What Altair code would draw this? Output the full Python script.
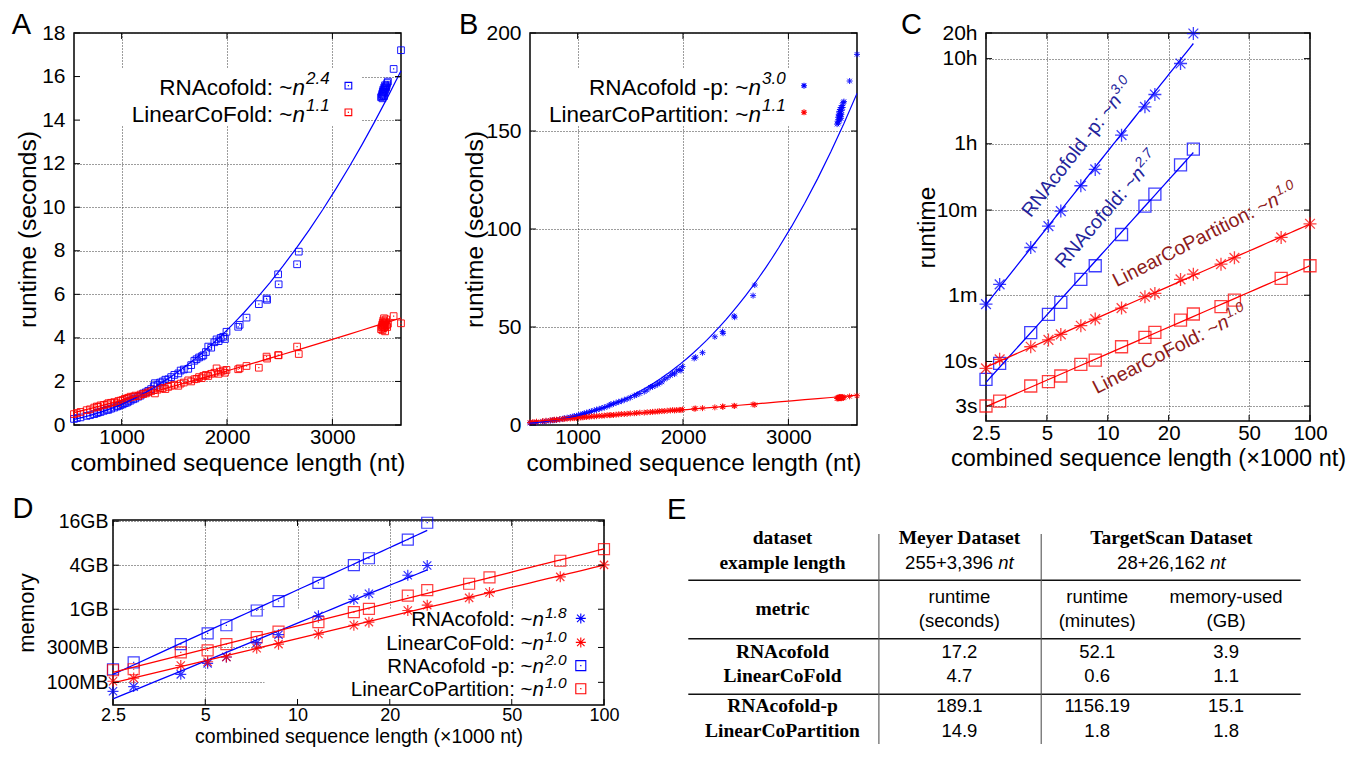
import altair as alt
import pandas as pd

# ---------------- data ----------------
# Panels A/B: Meyer dataset, combined length (nt)
meyer_len = [548, 575, 610, 668, 700, 740, 765, 779, 800, 830,
             860, 874, 900, 930, 955, 969, 990, 1010, 1030, 1050,
             1064, 1085, 1110, 1130, 1158, 1180, 1205, 1230, 1253, 1280,
             1305, 1316, 1340, 1365, 1390, 1415, 1443, 1470, 1500, 1538,
             1560, 1590, 1632, 1660, 1690, 1711, 1735, 1760, 1775, 1800,
             1822, 1850, 1880, 1901, 1920, 1940, 1964, 1980, 1995,
             2106, 2120, 2185, 2302, 2375, 2380, 2485, 2490, 2665, 2681,
             3462, 3468, 3472, 3475, 3478, 3480, 3483, 3485, 3487, 3490,
             3492, 3495, 3498, 3500, 3503, 3506, 3510, 3515, 3520, 3527,
             3581, 3651]
a_rnacofold_sec = [0.28, 0.32, 0.35, 0.42, 0.45, 0.5, 0.55, 0.58, 0.6, 0.65,
                   0.7, 0.7, 0.75, 0.8, 0.85, 0.88, 0.92, 0.95, 1.0, 1.03,
                   1.08, 1.12, 1.18, 1.22, 1.3, 1.35, 1.45, 1.5, 1.57, 1.65,
                   1.78, 1.92, 1.85, 1.95, 2.0, 2.08, 2.1, 2.2, 2.3, 2.37,
                   2.5, 2.55, 2.58, 2.75, 2.95, 3.02, 3.1, 3.15, 3.2, 3.35,
                   3.6, 3.55, 3.8, 3.93, 3.85, 4.0, 4.05, 3.95, 4.28,
                   4.51, 4.6, 4.93, 5.55, 5.81, 5.75, 6.92, 6.46, 7.38, 7.96,
                   15.05, 15.1, 15.2, 15.0, 15.3, 15.15, 15.4, 15.25, 15.35, 15.1,
                   15.5, 15.3, 15.45, 15.6, 15.4, 15.55, 15.5, 15.6, 15.7, 15.77,
                   16.35, 17.21]
a_linearcofold_sec = [0.5, 0.55, 0.6, 0.68, 0.72, 0.8, 0.85, 0.83, 0.9, 0.92,
                      0.95, 1.0, 1.02, 1.05, 1.0, 1.1, 1.12, 1.15, 1.2, 1.22,
                      1.25, 1.3, 1.3, 1.35, 1.33, 1.4, 1.42, 1.45, 1.5, 1.55,
                      1.6, 1.45, 1.62, 1.68, 1.7, 1.65, 1.75, 1.8, 1.85, 1.8,
                      1.9, 1.95, 2.05, 2.0, 2.1, 2.12, 2.2, 2.15, 2.25, 2.3,
                      2.25, 2.35, 2.4, 2.6, 2.35, 2.45, 2.5, 2.4, 2.53,
                      2.56, 2.6, 2.71, 2.63, 3.14, 3.05, 3.21, 3.2, 3.6, 3.26,
                      4.4, 4.5, 4.6, 4.35, 4.7, 4.55, 4.8, 4.45, 4.65, 4.9,
                      4.5, 4.6, 4.75, 4.3, 4.55, 4.7, 4.85, 4.6, 4.5, 4.65,
                      5.0, 4.67]
b_rnacofold_p_sec = [1.0, 1.1, 1.3, 1.7, 1.9, 2.2, 2.4, 2.5, 2.6, 2.9,
                     3.2, 3.4, 3.7, 4.0, 4.3, 4.5, 4.7, 5.0, 5.3, 5.6,
                     5.9, 6.2, 6.7, 7.0, 7.4, 7.8, 8.2, 8.6, 9.0, 9.5,
                     10.1, 10.6, 10.8, 11.3, 11.8, 12.2, 12.8, 13.3, 14.0, 14.9,
                     15.4, 16.1, 17.0, 17.9, 19.2, 19.6, 20.1, 20.8, 21.4, 22.0,
                     23.4, 24.1, 25.3, 26.4, 26.0, 27.6, 28.3, 27.8, 29.8,
                     34.0, 34.6, 36.9, 45.0, 47.6, 46.8, 55.6, 55.0, 66.0, 71.4,
                     153.5, 155, 157, 154, 158.5, 156, 160, 155.5, 158, 161,
                     157.5, 159, 162, 156.5, 158.5, 160.5, 163, 162, 164.5, 165,
                     175.5, 189.1]
b_linearcopartition_sec = [1.3, 1.5, 1.7, 2.0, 2.2, 2.4, 2.5, 2.7, 2.7, 2.9,
                           3.0, 3.2, 3.2, 3.3, 3.5, 3.5, 3.6, 3.8, 3.8, 3.9,
                           4.1, 4.1, 4.2, 4.4, 4.4, 4.5, 4.7, 4.7, 4.8, 5.0,
                           5.0, 5.1, 5.1, 5.3, 5.4, 5.6, 5.6, 5.7, 5.9, 6.0,
                           6.1, 6.3, 6.3, 6.5, 6.6, 6.7, 6.8, 6.9, 7.0, 7.1,
                           7.1, 7.3, 7.4, 7.6, 7.4, 7.6, 7.7, 7.6, 7.9,
                           8.3, 8.4, 8.6, 9.0, 9.4, 9.3, 9.8, 9.7, 10.5, 10.3,
                           13.5, 13.7, 13.9, 13.6, 14.0, 13.8, 14.2, 13.7, 13.9, 14.3,
                           13.8, 14.0, 14.1, 13.6, 13.9, 14.2, 14.3, 14.0, 13.8, 14.1,
                           14.6, 14.9]

# Panels C/D: TargetScan dataset, combined length (x1000 nt)
ts_len_k = [2.5, 2.92, 4.16, 5.09, 5.86, 7.36, 8.67, 11.7, 15.27, 17.1,
            22.9, 26.5, 36.3, 42.3, 72.0, 100.0]
c_rnacofold_p_sec = [47.2, 80.4, 218, 389, 583, 1157, 1799, 4548, 9783, 13650, 31550, 70980]
c_rnacofold_sec = [6.17, 9.5, 21.8, 35.7, 49.4, 92, 133, 310, 668, 923, 2040, 3115]
c_linearcopartition_sec = [8.3, 10.6, 14.9, 17.9, 20.8, 26.3, 31.5, 42.4, 57.6, 63,
                           92, 106, 139, 165, 286, 414]
c_linearcofold_sec = [3.0, 3.43, 5.15, 5.79, 6.75, 9.25, 10.4, 14.9, 19.2, 22.0,
                      30.6, 36.1, 44.0, 52.6, 94.5, 133]

d_rnacofold_gb = [0.0754, 0.0875, 0.1287, 0.182, 0.222, 0.3467, 0.448, 0.812,
                  1.36, 1.624, 2.914, 3.962]
d_linearcofold_gb = [0.1035, 0.1143, 0.17, 0.1913, 0.222, 0.2928, 0.333, 0.4572,
                     0.6034, 0.666, 0.961, 1.137, 1.428, 1.69, 2.773, 4.04]
d_rnacofold_p_gb = [0.151, 0.1875, 0.333, 0.4665, 0.6034, 0.961, 1.294, 2.298,
                    4.0, 4.975, 8.92, 15.23]
d_linearcopartition_gb = [0.1464, 0.151, 0.2575, 0.2733, 0.333, 0.4142, 0.495, 0.666,
                          0.915, 1.01, 1.531, 1.829, 2.23, 2.72, 4.6, 6.63]

# tick labels
a_x_ticks = [1000, 2000, 3000]
a_y_ticks = [0, 2, 4, 6, 8, 10, 12, 14, 16, 18]
b_y_ticks = [0, 50, 100, 150, 200]
log_x_ticks = [2.5, 5, 10, 20, 50, 100]
c_y_ticks = [3, 10, 60, 600, 3600, 36000, 72000]
c_y_labels = ["3s", "10s", "1m", "10m", "1h", "10h", "20h"]
d_y_ticks = [0.1, 0.3, 1, 4, 16]
d_y_labels = ["100MB", "300MB", "1GB", "4GB", "16GB"]

# panel E table
table_methods = ["RNAcofold", "LinearCoFold", "RNAcofold-p", "LinearCoPartition"]
table_meyer_runtime_s = ["17.2", "4.7", "189.1", "14.9"]
table_ts_runtime_min = ["52.1", "0.6", "1156.19", "1.8"]
table_ts_memory_gb = ["3.9", "1.1", "15.1", "1.8"]
table_datasets = ["Meyer Dataset", "TargetScan Dataset"]
table_lengths = ["255+3,396", "28+26,162"]

# ---------------- style ----------------
BLUE = "#0000ff"
RED = "#ff0000"
DBLUE = "#24249c"
DRED = "#8e1b1b"
SANS = "Liberation Sans"
SERIF = "Liberation Serif"
STAR = "M-1,0L1,0M0,-1L0,1M-0.75,-0.75L0.75,0.75M-0.75,0.75L0.75,-0.75"
FRAME = alt.ViewBackground(stroke="black", strokeWidth=1.5, fill="white")
TICK = 6
one = pd.DataFrame({"k": [0]})

CW = {" ": .278, "-": .333, ":": .278, "~": .584, ".": .278, ",": .278, "+": .584,
      "(": .333, ")": .333, "A": .667, "C": .722, "F": .611, "L": .556, "N": .722,
      "P": .667, "R": .722, "a": .556, "c": .5, "d": .556, "e": .556, "f": .278,
      "i": .222, "l": .222, "n": .556, "o": .556, "p": .556, "r": .333, "t": .278}


def tw(s, fs):
    return sum(CW.get(ch, 0.556) for ch in s) * fs


def txt(x, y, s, size, color="black", align="left", baseline="alphabetic",
        italic=False, bold=False, font=SANS, angle=0, dx=0, dy=0):
    kw = dict(text=s, fontSize=size, color=color, align=align, baseline=baseline,
              font=font, dx=dx, dy=dy)
    if italic:
        kw["fontStyle"] = "italic"
    if bold:
        kw["fontWeight"] = "bold"
    if angle:
        kw["angle"] = angle
    return alt.Chart(one).mark_text(**kw).encode(x=alt.value(x), y=alt.value(y))


def mask(x1, x2, y1, y2):
    return alt.Chart(one).mark_rect(color="white").encode(
        x=alt.value(x1), x2=alt.value(x2), y=alt.value(y1), y2=alt.value(y2))


def sym(x, y, shape, color, size, dot=False):
    out = [alt.Chart(one).mark_point(shape=shape, filled=False, size=size, color=color,
                                      strokeWidth=1.1, opacity=1).encode(
        x=alt.value(x), y=alt.value(y))]
    if dot:
        out.append(alt.Chart(one).mark_point(shape="square", filled=True, size=1.5,
                                             color=color, opacity=1).encode(
            x=alt.value(x), y=alt.value(y)))
    return out


def legend_row(x_nend, y_base, y_exp, main, exp, fs, efs, sx, sy, shape, color, size, dot):
    wn = 0.556 * fs
    out = [txt(x_nend - wn, y_base, main, fs, align="right"),
           txt(x_nend, y_base, "n", fs, align="right", italic=True),
           txt(x_nend + 1, y_exp, exp, efs, italic=True)]
    return out + sym(sx, sy, shape, color, size, dot)


def inner_ticks(xvals, yvals, xenc, yenc, xfield, yfield, w, h):
    """gnuplot-style inward ticks on all four sides, placed through the panel's own scales."""
    dx = pd.DataFrame({xfield: xvals})
    dy = pd.DataFrame({yfield: yvals})
    out = []
    for y1, y2 in [(h, h - TICK), (0, TICK)]:
        out.append(alt.Chart(dx).mark_rule(color="black", strokeWidth=1).encode(
            x=xenc, y=alt.value(y1), y2=alt.value(y2)))
    for x1, x2 in [(0, TICK), (w, w - TICK)]:
        out.append(alt.Chart(dy).mark_rule(color="black", strokeWidth=1).encode(
            y=yenc, x=alt.value(x1), x2=alt.value(x2)))
    return out


def label_expr(vals, labs):
    expr = "''"
    for v, l in reversed(list(zip(vals, labs))):
        expr = f"abs(datum.value - {v}) < {v}*1e-6 ? '{l}' : ({expr})"
    return expr


def series_df(xs, named, xname, yname):
    rows = []
    for name, ys in named:
        for x, y in zip(xs, ys):
            rows.append({xname: x, yname: y, "series": name})
    return pd.DataFrame(rows)


def x_axis(values, title, width, fs_lab, fs_title, pad, title_y, fmt=None):
    kw = dict(values=values, title=title, labelFontSize=fs_lab, titleFontSize=fs_title,
              labelPadding=pad, titleX=width / 2, titleY=title_y, titleAlign="center",
              titleBaseline="alphabetic", zindex=0)
    if fmt:
        kw["format"] = fmt
    return alt.Axis(**kw)


def y_axis(values, title, height, fs_lab, fs_title, pad, title_x, expr=None):
    kw = dict(values=values, title=title, labelFontSize=fs_lab, titleFontSize=fs_title,
              labelPadding=pad, titleX=title_x, titleY=height / 2, titleAngle=270,
              titleAlign="center", titleBaseline="alphabetic", zindex=0)
    if expr:
        kw["labelExpr"] = expr
    return alt.Axis(**kw)


# ---------------- panel A ----------------
W_AB, H_AB = 327, 392
NM = len(meyer_len)
dfA = pd.DataFrame({"n": meyer_len * 2, "t": a_rnacofold_sec + a_linearcofold_sec,
                    "series": ["RNAcofold"] * NM + ["LinearCoFold"] * NM})
colA = alt.Color("series:N", legend=None,
                 scale=alt.Scale(domain=["RNAcofold", "LinearCoFold"], range=[BLUE, RED]))
xA = alt.X("n:Q", scale=alt.Scale(domain=[548, 3651], nice=False, zero=False),
           axis=x_axis(a_x_ticks, "combined sequence length (nt)", W_AB, 20.5, 24.4, 2.5, 45.5, "d"))
yA = alt.Y("t:Q", scale=alt.Scale(domain=[0, 18], nice=False),
           axis=y_axis(a_y_ticks, "runtime (seconds)", H_AB, 21, 24.6, 9, -39))
baseA = alt.Chart(dfA)
layersA = [mask(1, 287, 36, 92),
           baseA.mark_point(shape="square", filled=False, size=45, strokeWidth=1,
                            opacity=0.9).encode(x=xA, y=yA, color=colA),
           baseA.mark_point(shape="square", filled=True, size=1.5, opacity=0.9).encode(
               x=xA, y=yA, color=colA),
           baseA.transform_regression(regression="t", on="n", method="pow",
                                      groupby=["series"]).mark_line(strokeWidth=1.2).encode(
               x=xA, y=yA, color=colA)]
layersA += inner_ticks(a_x_ticks, a_y_ticks, xA, yA, "n", "t", W_AB, H_AB)
layersA += legend_row(231, 62, 51, "RNAcofold: ~", "2.4", 22.5, 17, 274.4, 52.7,
                      "square", BLUE, 45, True)
layersA += legend_row(231, 88.7, 77.6, "LinearCoFold: ~", "1.1", 22.5, 17, 274.4, 79.3,
                      "square", RED, 45, True)
layersA.append(txt(-62.3, 1, "A", 29))
panelA = alt.layer(*layersA).properties(width=W_AB, height=H_AB, view=FRAME)

# ---------------- panel B ----------------
dfB = pd.DataFrame({"n": meyer_len * 2, "t": b_rnacofold_p_sec + b_linearcopartition_sec,
                    "series": ["RNAcofold -p"] * NM + ["LinearCoPartition"] * NM})
colB = alt.Color("series:N", legend=None,
                 scale=alt.Scale(domain=["RNAcofold -p", "LinearCoPartition"], range=[BLUE, RED]))
xB = alt.X("n:Q", scale=alt.Scale(domain=[548, 3651], nice=False, zero=False),
           axis=x_axis(a_x_ticks, "combined sequence length (nt)", W_AB, 20.5, 24.4, 2.5, 45.5, "d"))
yB = alt.Y("t:Q", scale=alt.Scale(domain=[0, 200], nice=False),
           axis=y_axis(b_y_ticks, "runtime (seconds)", H_AB, 21, 24.6, 9, -47.7))
baseB = alt.Chart(dfB)
layersB = [mask(1, 287, 36, 92),
           baseB.mark_point(shape=STAR, filled=False, size=36, strokeWidth=1,
                            opacity=0.9).encode(x=xB, y=yB, color=colB),
           baseB.transform_regression(regression="t", on="n", method="pow",
                                      groupby=["series"]).mark_line(strokeWidth=1.2).encode(
               x=xB, y=yB, color=colB)]
layersB += inner_ticks(a_x_ticks, b_y_ticks, xB, yB, "n", "t", W_AB, H_AB)
layersB += legend_row(231, 62, 51, "RNAcofold -p: ~", "3.0", 22.5, 17, 274, 52.7,
                      STAR, BLUE, 36, False)
layersB += legend_row(231, 88.7, 77.6, "LinearCoPartition: ~", "1.1", 22.5, 17, 274, 79.3,
                      STAR, RED, 36, False)
layersB.append(txt(-71, 1, "B", 29))
panelB = alt.layer(*layersB).properties(width=W_AB, height=H_AB, view=FRAME)

# ---------------- panel C ----------------
W_C, H_C = 324, 388
dfC = series_df(ts_len_k, [("RNAcofold -p", c_rnacofold_p_sec), ("RNAcofold", c_rnacofold_sec),
                           ("LinearCoPartition", c_linearcopartition_sec),
                           ("LinearCoFold", c_linearcofold_sec)], "len", "sec")
colC = alt.Color("series:N", legend=None,
                 scale=alt.Scale(domain=["RNAcofold", "RNAcofold -p", "LinearCoFold",
                                         "LinearCoPartition"], range=[BLUE, BLUE, RED, RED]))
xC = alt.X("len:Q", scale=alt.Scale(type="log", domain=[2.5, 100], nice=False),
           axis=x_axis(log_x_ticks, "combined sequence length (\u00d71000 nt)", W_C, 20.5, 23.5,
                       2, 44.5, "~g"))
yC = alt.Y("sec:Q", scale=alt.Scale(type="log", domain=[2, 72000], nice=False),
           axis=y_axis(c_y_ticks, "runtime", H_C, 21, 24.6, 9, -52,
                       label_expr(c_y_ticks, c_y_labels)))
baseC = alt.Chart(dfC)
layersC = [
    baseC.transform_filter(alt.FieldOneOfPredicate(field="series",
                                                   oneOf=["RNAcofold", "LinearCoFold"]))
    .mark_point(shape="square", filled=False, size=144, strokeWidth=1.3, opacity=0.75)
    .encode(x=xC, y=yC, color=colC),
    baseC.transform_filter(alt.FieldOneOfPredicate(field="series",
                                                   oneOf=["RNAcofold -p", "LinearCoPartition"]))
    .mark_point(shape=STAR, filled=False, size=169, strokeWidth=1.3, opacity=0.75)
    .encode(x=xC, y=yC, color=colC),
    baseC.transform_regression(regression="sec", on="len", method="pow", groupby=["series"])
    .mark_line(strokeWidth=1.3).encode(x=xC, y=yC, color=colC),
]
layersC += inner_ticks(log_x_ticks, c_y_ticks, xC, yC, "len", "sec", W_C, H_C)
c_labels = [("RNAcofold -p: ~", "3.0", 44.7, 185.3, 308, DBLUE),
            ("RNAcofold: ~", "2.7", 77.4, 236.3, 311, DBLUE),
            ("LinearCoPartition: ~", "1.0", 130.7, 254.3, 333, DRED),
            ("LinearCoFold: ~", "1.0", 110.7, 361.3, 333, DRED)]
FSC = 19.5
for main, ex, sx, sy, ang, cc in c_labels:
    wm = tw(main, FSC)
    layersC += [txt(sx, sy, main, FSC, cc, angle=ang),
                txt(sx, sy, "n", FSC, cc, italic=True, angle=ang, dx=wm),
                txt(sx, sy, ex, 14, cc, italic=True, angle=ang, dx=wm + 0.556 * FSC + 1, dy=-8)]
layersC.append(txt(-85, 1, "C", 29))
panelC = alt.layer(*layersC).properties(width=W_C, height=H_C, view=FRAME)

# ---------------- panel D ----------------
W_D, H_D = 491, 185
dfD = series_df(ts_len_k, [("RNAcofold", d_rnacofold_gb), ("LinearCoFold", d_linearcofold_gb),
                           ("RNAcofold -p", d_rnacofold_p_gb),
                           ("LinearCoPartition", d_linearcopartition_gb)], "len", "gb")
xD = alt.X("len:Q", scale=alt.Scale(type="log", domain=[2.5, 100], nice=False),
           axis=x_axis(log_x_ticks, "combined sequence length (\u00d71000 nt)", W_D, 18, 19.5,
                       1, 37.5, "~g"))
yD = alt.Y("gb:Q", scale=alt.Scale(type="log", domain=[0.049, 16.6], nice=False),
           axis=y_axis(d_y_ticks, "memory", H_D, 19.5, 22, 5, -79.2,
                       label_expr(d_y_ticks, d_y_labels)))
baseD = alt.Chart(dfD)
sqD = baseD.transform_filter(alt.FieldOneOfPredicate(field="series",
                                                     oneOf=["RNAcofold -p", "LinearCoPartition"]))
layersD = [
    mask(151.5, 490, 88.7, 184),
    sqD.mark_point(shape="square", filled=False, size=121, strokeWidth=1.2, opacity=0.75)
    .encode(x=xD, y=yD, color=colC),
    sqD.mark_point(shape="square", filled=True, size=1.5, opacity=0.9)
    .encode(x=xD, y=yD, color=colC),
    baseD.transform_filter(alt.FieldOneOfPredicate(field="series",
                                                   oneOf=["RNAcofold", "LinearCoFold"]))
    .mark_point(shape=STAR, filled=False, size=121, strokeWidth=1.2, opacity=0.8)
    .encode(x=xD, y=yD, color=colC),
    baseD.transform_regression(regression="gb", on="len", method="pow", groupby=["series"])
    .mark_line(strokeWidth=1.3).encode(x=xD, y=yD, color=colC),
]
layersD += inner_ticks(log_x_ticks, d_y_ticks, xD, yD, "len", "gb", W_D, H_D)
d_leg = [("RNAcofold: ~", "1.8", STAR, BLUE, False),
         ("LinearCoFold: ~", "1.0", STAR, RED, False),
         ("RNAcofold -p: ~", "2.0", "square", BLUE, True),
         ("LinearCoPartition: ~", "1.0", "square", RED, True)]
d_sym_y = [98.4, 122.4, 145.6, 168.7]
for (main, ex, shp, cc, dot), sy in zip(d_leg, d_sym_y):
    layersD += legend_row(431, sy + 7.5, sy - 0.6, main, ex, 20.5, 15.5, 467.8, sy,
                          shp, cc, 100, dot)
layersD.append(txt(-100.5, -2, "D", 29))
panelD = alt.layer(*layersD).properties(width=W_D, height=H_D, view=FRAME)

# ---------------- panel E (table) ----------------
W_E, H_E = 700, 224
col_x = [178.5, 355.4, 493.2, 622.1]
ts_x = 567.4
row_head = [17.5, 42.8]
row_metric, row_unit1, row_unit2 = 88.8, 77, 101.4
row_methods = [131.5, 156.2, 186.2, 210.7]
FS_SERIF, FS_SANS = 19.5, 18.5

serif_rows = [("dataset", col_x[0], row_head[0]), ("example length", col_x[0], row_head[1]),
              ("metric", col_x[0], row_metric),
              (table_datasets[0], col_x[1], row_head[0]), (table_datasets[1], ts_x, row_head[0])]
serif_rows += [(m, col_x[0], y) for m, y in zip(table_methods, row_methods)]
sans_rows = [("runtime", col_x[1], row_unit1), ("(seconds)", col_x[1], row_unit2),
             ("runtime", col_x[2], row_unit1), ("(minutes)", col_x[2], row_unit2),
             ("memory-used", col_x[3], row_unit1), ("(GB)", col_x[3], row_unit2)]
for vals, cx in [(table_meyer_runtime_s, col_x[1]), (table_ts_runtime_min, col_x[2]),
                 (table_ts_memory_gb, col_x[3])]:
    sans_rows += [(v, cx, y) for v, y in zip(vals, row_methods)]
len_rows, nt_rows = [], []
for s, cx in zip(table_lengths, [col_x[1], ts_x]):
    total = tw(s + " nt", FS_SANS)
    right = cx - total / 2 + tw(s, FS_SANS)
    len_rows.append((s, right, row_head[1]))
    nt_rows.append(("nt", right + tw(" ", FS_SANS), row_head[1]))


def tdf(rows):
    return pd.DataFrame(rows, columns=["text", "px", "py"])


def ttext(rows, **kw):
    return alt.Chart(tdf(rows)).mark_text(baseline="middle", **kw).encode(
        x=alt.X("px:Q", scale=None, axis=None), y=alt.Y("py:Q", scale=None, axis=None),
        text="text:N")


hl = pd.DataFrame({"x": [84.3] * 3, "x2": [696.7] * 3, "y": [60.3, 118.8, 174.3],
                   "y2": [60.3, 118.8, 174.3]})
vl = pd.DataFrame({"x": [274.9, 437.2], "x2": [274.9, 437.2], "y": [14, 14],
                   "y2": [224, 224]})


def rules(df, color, width):
    return alt.Chart(df).mark_rule(color=color, strokeWidth=width).encode(
        x=alt.X("x:Q", scale=None, axis=None), x2="x2:Q",
        y=alt.Y("y:Q", scale=None, axis=None), y2="y2:Q")


layersE = [rules(hl, "#111111", 1.4), rules(vl, "#555555", 1.1),
           ttext(serif_rows, font=SERIF, fontWeight="bold", fontSize=FS_SERIF, align="center",
                 color="black"),
           ttext(sans_rows, font=SANS, fontSize=FS_SANS, align="center", color="black"),
           ttext(len_rows, font=SANS, fontSize=FS_SANS, align="right", color="black"),
           ttext(nt_rows, font=SANS, fontSize=FS_SANS, fontStyle="italic", align="left",
                 color="black"),
           txt(62.9, -1, "E", 29)]
panelE = alt.layer(*layersE).properties(width=W_E, height=H_E)

# spacer so that panel D's plot starts 38 px to the right of panel A's
spacer = alt.Chart(one).mark_point(opacity=0).encode(
    x=alt.value(0), y=alt.value(0)).properties(width=38.2, height=10)

# ---------------- layout ----------------
top = alt.hconcat(panelA, panelB, panelC, spacing=129, bounds="flush")
bottom = alt.hconcat(spacer, panelD, panelE, spacing=0, bounds="flush")
chart = alt.vconcat(top, bottom, spacing=18).properties(
    padding={"left": 2, "top": 2, "right": 0, "bottom": 0}
).configure_view(stroke="transparent").configure_axis(
    labelFont=SANS, titleFont=SANS, labelColor="black", titleColor="black",
    titleFontWeight="normal", grid=True, gridColor="#3a3a3a", gridDash=[1, 2],
    gridWidth=1, ticks=False, domain=False, labelOverlap=False, labelFlush=False,
    labelBound=False)

chart.save("out.html", embed_options={"renderer": "svg", "actions": False})
